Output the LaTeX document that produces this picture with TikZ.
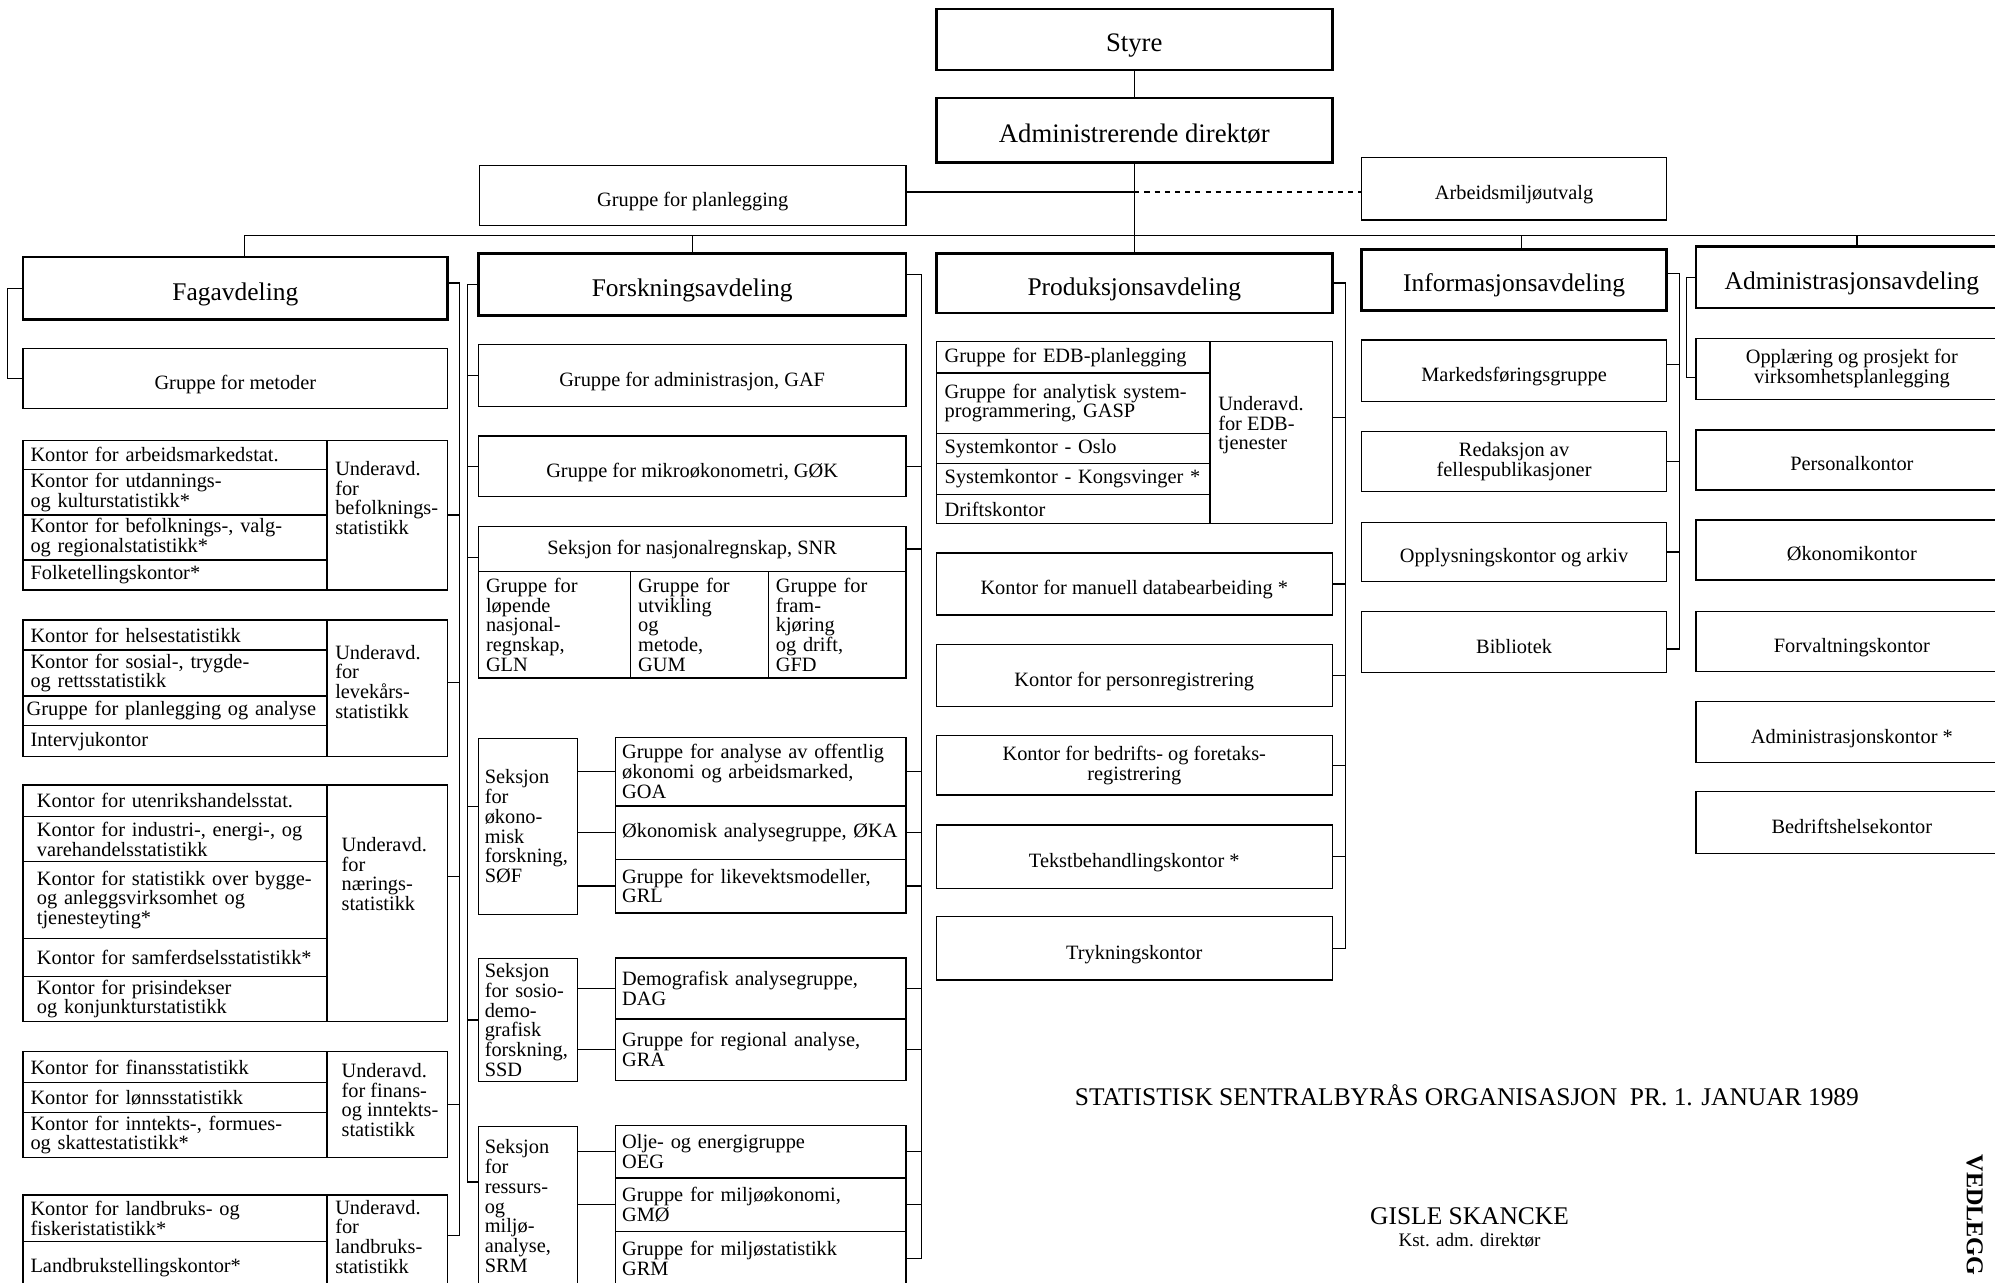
\documentclass[tikz,border=0pt]{standalone}
\usepackage{fontspec}
\setmainfont{Liberation Serif}
\usepackage{tikz}
\newcommand\tekst{\fontsize{16}{15.5}\selectfont}
\newcommand\hodefont{\fontsize{20}{24}\selectfont}
\newcommand\toppfont{\fontsize{21}{25}\selectfont}

\begin{document}
\begin{tikzpicture}[x=1pt,y=-1pt,line width=1pt,
    boks/.style={draw,anchor=north west,inner sep=0pt,outer sep=0pt,align=center,font=\tekst},
    boks1/.style={boks,text height=17pt,text depth=0pt},
    hode/.style={boks,line width=2.2pt,font=\hodefont,text height=19pt,text depth=0pt},
    celle/.style={draw,anchor=north west,inner ysep=0pt,inner xsep=6pt,outer sep=0pt,
        text width=#1,align=left,font=\tekst},
    celle/.default=227pt,
    etikett/.style={anchor=north west,inner sep=0pt,align=left,font=\tekst},
    prikket/.style={dash pattern=on 4pt off 4pt}]
	\useasboundingbox (0,0) rectangle (1568,1008);

	%% Styre and direktoer
	\node[hode,font=\toppfont,minimum width=311,minimum height=48] (styre) at (736,7) {Styre};
	\node[hode,font=\toppfont,minimum width=311,minimum height=51] (dir) at (736,77) {Administrerende direktør};
	\node[boks1,minimum width=335,minimum height=47] (gpl) at (377,130) {Gruppe for planlegging};
	\node[boks1,minimum width=240,minimum height=49] (amu) at (1070,124) {Arbeidsmiljøutvalg};

	%% Avdelinger
	\node[hode,minimum width=334,minimum height=49] (fag) at (18,202) {Fagavdeling};
	\node[hode,minimum width=336,minimum height=49] (forsk) at (376,199) {Forskningsavdeling};
	\node[hode,minimum width=311,minimum height=47] (prod) at (736,199) {Produksjonsavdeling};
	\node[hode,minimum width=240,minimum height=48] (info) at (1070,196) {Informasjonsavdeling};
	\node[hode,minimum width=245,minimum height=48] (adm) at (1333,194) {Administrasjonsavdeling};

	% Fagavdeling
	\node[boks1,minimum width=334,minimum height=47] (met) at (18,274) {Gruppe for metoder};

	\node[celle,minimum height=23] (bef1) at (18,346) {Kontor for arbeidsmarkedstat.};
	\node[celle,minimum height=35.7] (bef2) at (18,369) {Kontor for utdannings-\\og kulturstatistikk*};
	\node[celle,minimum height=35.4] (bef3) at (18,404.7) {Kontor for befolknings-, valg-\\og regionalstatistikk*};
	\node[celle,minimum height=23.6] (bef4) at (18,440.1) {Folketellingskontor*};
	\node[boks,minimum width=95,minimum height=117.7] (befU) at (257,346) {};
	\node[etikett] (befL) at (263,362) {Underavd.\\for\\befolknings-\\statistikk};

	\node[celle,minimum height=23.5] (lev1) at (18,487.3) {Kontor for helsestatistikk};
	\node[celle,minimum height=36.2] (lev2) at (18,510.8) {Kontor for sosial-, trygde-\\og rettsstatistikk};
	\node[celle=233pt,inner xsep=3pt,minimum height=23.3] (lev3) at (18,547) {Gruppe for planlegging og analyse};
	\node[celle,minimum height=24.4] (lev4) at (18,570.3) {Intervjukontor};
	\node[boks,minimum width=95,minimum height=107.4] (levU) at (257,487.3) {};
	\node[etikett] (levL) at (263,506.5) {Underavd.\\for\\levekårs-\\statistikk};

	\node[celle=217pt,inner xsep=11pt,minimum height=24.8] (nar1) at (18,617) {Kontor for utenrikshandelsstat.};
	\node[celle=217pt,inner xsep=11pt,minimum height=35.4] (nar2) at (18,641.8) {Kontor for industri-, energi-, og\\varehandelsstatistikk};
	\node[celle=217pt,inner xsep=11pt,minimum height=60.3] (nar3) at (18,677.2) {Kontor for statistikk over bygge-\\og anleggsvirksomhet og\\tjenesteyting*};
	\node[celle=217pt,inner xsep=11pt,minimum height=30.1] (nar4) at (18,737.5) {Kontor for samferdselsstatistikk*};
	\node[celle=217pt,inner xsep=11pt,minimum height=35.4] (nar5) at (18,767.6) {Kontor for prisindekser\\og konjunkturstatistikk};
	\node[boks,minimum width=95,minimum height=186] (narU) at (257,617) {};
	\node[etikett] (narL) at (268,657.5) {Underavd.\\for\\nærings-\\statistikk};

	\node[celle,minimum height=24.4] (fin1) at (18,826.5) {Kontor for finansstatistikk};
	\node[celle,minimum height=23.6] (fin2) at (18,850.9) {Kontor for lønnsstatistikk};
	\node[celle,minimum height=35.1] (fin3) at (18,874.5) {Kontor for inntekts-, formues-\\og skattestatistikk*};
	\node[boks,minimum width=95,minimum height=83.1] (finU) at (257,826.5) {};
	\node[etikett] (finL) at (268,835.3) {Underavd.\\for finans-\\og inntekts-\\statistikk};

	\node[celle,minimum height=36.7] (lan1) at (18,939.2) {Kontor for landbruks- og\\fiskeristatistikk*};
	\node[celle,minimum height=41.1] (lan2) at (18,975.9) {Landbrukstellingskontor*};
	\node[boks,minimum width=95,minimum height=77.8] (lanU) at (257,939.2) {};
	\node[etikett] (lanL) at (263,942.7) {Underavd.\\for\\landbruks-\\statistikk};

	% Forskningsavdeling
	\node[boks1,minimum width=336,minimum height=48.6] (gaf) at (376,271) {Gruppe for administrasjon, GAF};
	\node[boks1,minimum width=336,minimum height=47.8] (gok) at (376,342.6) {Gruppe for mikroøkonometri, GØK};
	\node[boks,minimum width=336,minimum height=35.7] (snr) at (376,413.7) {Seksjon for nasjonalregnskap, SNR};
	\node[celle=107.6pt,minimum height=83.4] (gln) at (376,449.4) {Gruppe for\\løpende\\nasjonal-\\regnskap,\\GLN};
	\node[celle=96.2pt,minimum height=83.4] (gum) at (495.6,449.4) {Gruppe for\\utvikling\\og\\metode,\\GUM};
	\node[celle=96.2pt,minimum height=83.4] (gfd) at (603.8,449.4) {Gruppe for\\fram-\\kjøring\\og drift,\\GFD};

	\node[celle=68pt,inner xsep=5pt,minimum height=138] (sof) at (376,580.5) {Seksjon\\for\\økono-\\misk\\forskning,\\SØF};
	\node[celle=218pt,inner xsep=5pt,minimum height=54.1] (goa) at (484,579.4) {Gruppe for analyse av offentlig\\økonomi og arbeidsmarked,\\GOA};
	\node[celle=218pt,inner xsep=5pt,minimum height=41.8] (oka) at (484,633.5) {Økonomisk analysegruppe, ØKA};
	\node[celle=218pt,inner xsep=5pt,minimum height=42.2] (grl) at (484,675.3) {Gruppe for likevektsmodeller,\\GRL};

	\node[celle=68pt,inner xsep=5pt,minimum height=96.5] (ssd) at (376,753.5) {Seksjon\\for sosio-\\demo-\\grafisk\\forskning,\\SSD};
	\node[celle=218pt,inner xsep=5pt,minimum height=47.8] (dag) at (484,753) {Demografisk analysegruppe,\\DAG};
	\node[celle=218pt,inner xsep=5pt,minimum height=48.2] (gra) at (484,800.8) {Gruppe for regional analyse,\\GRA};

	\node[celle=68pt,inner xsep=5pt,minimum height=125] (srm) at (376,885.5) {Seksjon\\for\\ressurs-\\og\\miljø-\\analyse,\\SRM};
	\node[celle=218pt,inner xsep=5pt,minimum height=41.5] (oeg) at (484,884.4) {Olje- og energigruppe\\OEG};
	\node[celle=218pt,inner xsep=5pt,minimum height=41.8] (gmo) at (484,925.9) {Gruppe for miljøøkonomi,\\GMØ};
	\node[celle=218pt,inner xsep=5pt,minimum height=42.5] (grm) at (484,967.7) {Gruppe for miljøstatistikk\\GRM};

	% Produksjonsavdeling
	\node[celle=202pt,inner xsep=6.5pt,minimum height=24.9] (edb1) at (736,268.2) {Gruppe for EDB-planlegging};
	\node[celle=202pt,inner xsep=6.5pt,minimum height=47.4] (edb2) at (736,293.1) {Gruppe for analytisk system-\\programmering, GASP};
	\node[celle=202pt,inner xsep=6.5pt,minimum height=23.8] (edb3) at (736,340.5) {Systemkontor - Oslo};
	\node[celle=202pt,inner xsep=6.5pt,minimum height=24.4] (edb4) at (736,364.3) {Systemkontor - Kongsvinger *};
	\node[celle=202pt,inner xsep=6.5pt,minimum height=23] (edb5) at (736,388.7) {Driftskontor};
	\node[boks,minimum width=96,minimum height=143.5] (edbU) at (951,268.2) {};
	\node[etikett] (edbL) at (957,311) {Underavd.\\for EDB-\\tjenester};

	\node[boks1,minimum width=311,minimum height=48.7] (man) at (736,434.7) {Kontor for manuell databearbeiding *};
	\node[boks1,minimum width=311,minimum height=48.7] (per) at (736,506.4) {Kontor for personregistrering};
	\node[boks,minimum width=311,minimum height=46.8] (bed) at (736,578.1) {Kontor for bedrifts- og foretaks-\\registrering};
	\node[boks1,minimum width=311,minimum height=49.7] (tek) at (736,648.5) {Tekstbehandlingskontor *};
	\node[boks1,minimum width=311,minimum height=49.8] (tryk) at (736,720.5) {Trykningskontor};

	% Informasjonsavdeling
	\node[boks1,minimum width=240,minimum height=48.5] (mark) at (1070,267.2) {Markedsføringsgruppe};
	\node[boks,minimum width=240,minimum height=47.2] (red) at (1070,339.2) {Redaksjon av\\fellespublikasjoner};
	\node[boks1,minimum width=240,minimum height=46.3] (opp) at (1070,410.8) {Opplysningskontor og arkiv};
	\node[boks1,minimum width=240,minimum height=47.9] (bib) at (1070,480.8) {Bibliotek};

	% Administrasjonsavdeling
	\node[boks,minimum width=245,minimum height=47.9] (opl) at (1333,265.9) {Opplæring og prosjekt for\\virksomhetsplanlegging};
	\node[boks1,minimum width=245,minimum height=47.2] (pers) at (1333,337.9) {Personalkontor};
	\node[boks1,minimum width=245,minimum height=47.1] (oko) at (1333,408.7) {Økonomikontor};
	\node[boks1,minimum width=245,minimum height=47.1] (forv) at (1333,480.8) {Forvaltningskontor};
	\node[boks1,minimum width=245,minimum height=48] (admk) at (1333,551.5) {Administrasjonskontor *};
	\node[boks1,minimum width=245,minimum height=48.5] (bhk) at (1333,622.2) {Bedriftshelsekontor};

	%% Top lines
	\coordinate (kryss) at (891.5,151);
	\coordinate (busL) at (192,185);
	\coordinate (busR) at (1580,185);
	\draw (styre.south) -- (dir.north);
	\draw (dir.south) -- (prod.north);
	\draw (gpl.east |- kryss) -- (kryss);
	\draw[prikket] (kryss) -- (amu.west |- kryss);
	\draw (busL) -- (busR);
	\draw (busL) -- (busL |- fag.north);
	\draw (forsk.north) -- (forsk.north |- busL);
	\draw ([xshift=6pt]info.north) -- ([xshift=6pt]info.north |- busL);
	\draw ([xshift=4pt]adm.north) -- ([xshift=4pt]adm.north |- busL);

	% Fagavdeling lines
	\coordinate (fagS) at (361,971);
	\draw (fag.west) -- ++(-12,0) |- (met.west);
	\draw ([yshift=4pt]fag.east) -| (fagS) -- (fagS -| lanU.east);
	\draw (befU.east) -- (befU.east -| fagS);
	\draw ([yshift=4.5pt]levU.east) -- ([yshift=4.5pt]levU.east -| fagS);
	\draw ([yshift=21pt]narU.east) -- ([yshift=21pt]narU.east -| fagS);
	\draw (finU.east) -- (finU.east -| fagS);

	% Forskningsavdeling lines
	\coordinate (forV) at (367.5,929);
	\coordinate (forR) at (724.4,989);
	\draw (forsk.west) -| (forV) -- (forV -| srm.west);
	\draw (gaf.west) -- (gaf.west -| forV);
	\draw (gok.west) -- (gok.west -| forV);
	\draw ([yshift=-6.5pt]snr.west) -- ([yshift=-6.5pt]snr.west -| forV);
	\draw ([yshift=15.5pt]sof.west) -- ([yshift=15.5pt]sof.west -| forV);
	\draw (ssd.west) -- (ssd.west -| forV);
	\draw ([yshift=7.5pt]forsk.east) -| (forR) -- (forR -| grm.east);
	\draw (gok.east) -- (gok.east -| forR);
	\draw (snr.east) -- (snr.east -| forR);
	\draw (goa.east) -- (goa.east -| forR);
	\draw (oka.east) -- (oka.east -| forR);
	\draw (grl.east) -- (grl.east -| forR);
	\draw (dag.east) -- (dag.east -| forR);
	\draw (gra.east) -- (gra.east -| forR);
	\draw (oeg.east) -- (oeg.east -| forR);
	\draw (gmo.east) -- (gmo.east -| forR);
	\draw (goa.west -| sof.east) -- (goa.west);
	\draw (oka.west -| sof.east) -- (oka.west);
	\draw (grl.west -| sof.east) -- (grl.west);
	\draw (dag.west -| ssd.east) -- (dag.west);
	\draw (gra.west -| ssd.east) -- (gra.west);
	\draw (oeg.west -| srm.east) -- (oeg.west);
	\draw (gmo.west -| srm.east) -- (gmo.west);

	% Produksjonsavdeling lines
	\coordinate (prodR) at (1057.5,745.4);
	\draw (prod.east) -| (prodR) -- (prodR -| tryk.east);
	\draw ([yshift=12pt]edbU.east) -- ([yshift=12pt]edbU.east -| prodR);
	\draw (man.east) -- (man.east -| prodR);
	\draw (per.east) -- (per.east -| prodR);
	\draw (bed.east) -- (bed.east -| prodR);
	\draw (tek.east) -- (tek.east -| prodR);

	% Informasjon and administrasjon lines
	\coordinate (infoR) at (1319.8,510);
	\draw ([yshift=5pt]info.east) -| (infoR) -- (infoR -| bib.east);
	\draw ([yshift=5pt]mark.east) -- ([yshift=5pt]mark.east -| infoR);
	\draw (red.east) -- (red.east -| infoR);
	\draw (opp.east) -- (opp.east -| infoR);
	\draw (adm.west) -- ++(-7.5,0) |- ([yshift=-7pt]opl.west);

	%% Title and signature
	\node[font=\fontsize{20}{24}\selectfont] (tittel) at (1153,861) {STATISTISK SENTRALBYRÅS ORGANISASJON\ \ PR. 1. JANUAR 1989};
	\node[font=\fontsize{20}{24}\selectfont] (navn) at (1155,956) {GISLE SKANCKE};
	\node[font=\fontsize{15}{18}\selectfont] (still) at (1155,975) {Kst. adm. direktør};
	\node[font=\bfseries\fontsize{19}{22}\selectfont,rotate=-90] (vedl) at (1552,955) {VEDLEGG};
\end{tikzpicture}
\end{document}
